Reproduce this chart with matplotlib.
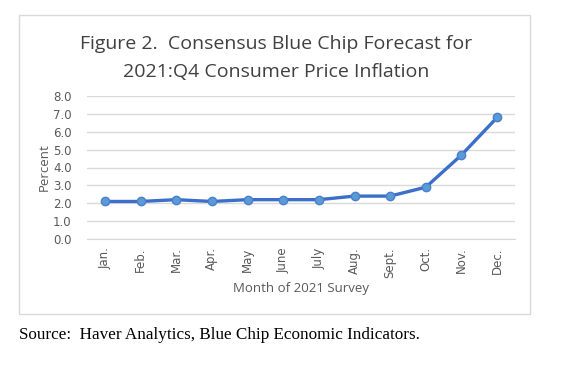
import matplotlib.pyplot as plt
from matplotlib.patches import Rectangle

months = ["Jan.", "Feb.", "Mar.", "Apr.", "May", "June", "July",
          "Aug.", "Sept.", "Oct.", "Nov.", "Dec."]
forecast = [2.1, 2.1, 2.2, 2.1, 2.2, 2.2, 2.2, 2.4, 2.4, 2.9, 4.7, 6.8]
yticks = [0, 1, 2, 3, 4, 5, 6, 7, 8]

W, H = 577, 375
fig = plt.figure(figsize=(W / 100, H / 100), dpi=100)
fig.patch.set_facecolor("white")

# chart frame
fig.patches.append(Rectangle((19 / W, 1 - 314 / H), (530 - 19) / W, (314 - 15) / H,
                             transform=fig.transFigure, fill=False,
                             edgecolor="#d9d9d9", linewidth=1))

ax = fig.add_axes([87 / W, 1 - 239 / H, (515 - 87) / W, (239 - 96) / H])
x = list(range(len(months)))
ax.plot(x, forecast, color="#3b6fc9", linewidth=2.4, marker="o",
        markersize=6, markerfacecolor="#5b9bd5", markeredgecolor="#4a7fcf",
        markeredgewidth=1, zorder=3)

ax.set_xlim(-0.5, len(months) - 0.5)
ax.set_ylim(0, 8)
ax.set_yticks(yticks)
ax.set_yticklabels([f"{v:.1f}" for v in yticks], fontsize=8.5,
                   color="#595959", family="DejaVu Sans")
ax.set_xticks(x)
ax.set_xticklabels(months, rotation=90, fontsize=8.5, color="#595959",
                   family="DejaVu Sans")
ax.grid(axis="y", color="#d9d9d9", linewidth=1)
ax.set_axisbelow(True)
for s in ["top", "right", "left"]:
    ax.spines[s].set_visible(False)
ax.spines["bottom"].set_color("#d9d9d9")
ax.tick_params(axis="both", length=0)
ax.tick_params(axis="y", pad=11)
ax.tick_params(axis="x", pad=6)

ax.set_ylabel("Percent", fontsize=9.5, color="#595959", family="Open Sans", labelpad=2)
ax.set_xlabel("Month of 2021 Survey", fontsize=9.5, color="#595959",
              family="Open Sans", labelpad=3)

fig.text(276 / W, 1 - 44 / H, "Figure 2.  Consensus Blue Chip Forecast for",
         ha="center", va="center", fontsize=14, color="#404040", family="Open Sans")
fig.text(276 / W, 1 - 72 / H, "2021:Q4 Consumer Price Inflation",
         ha="center", va="center", fontsize=14, color="#404040", family="Open Sans")

fig.text(19 / W, 1 - 335 / H, "Source:  Haver Analytics, Blue Chip Economic Indicators.",
         ha="left", va="center", fontsize=12.3, color="black", family="Liberation Serif")

fig.savefig("out.png", dpi=100)
